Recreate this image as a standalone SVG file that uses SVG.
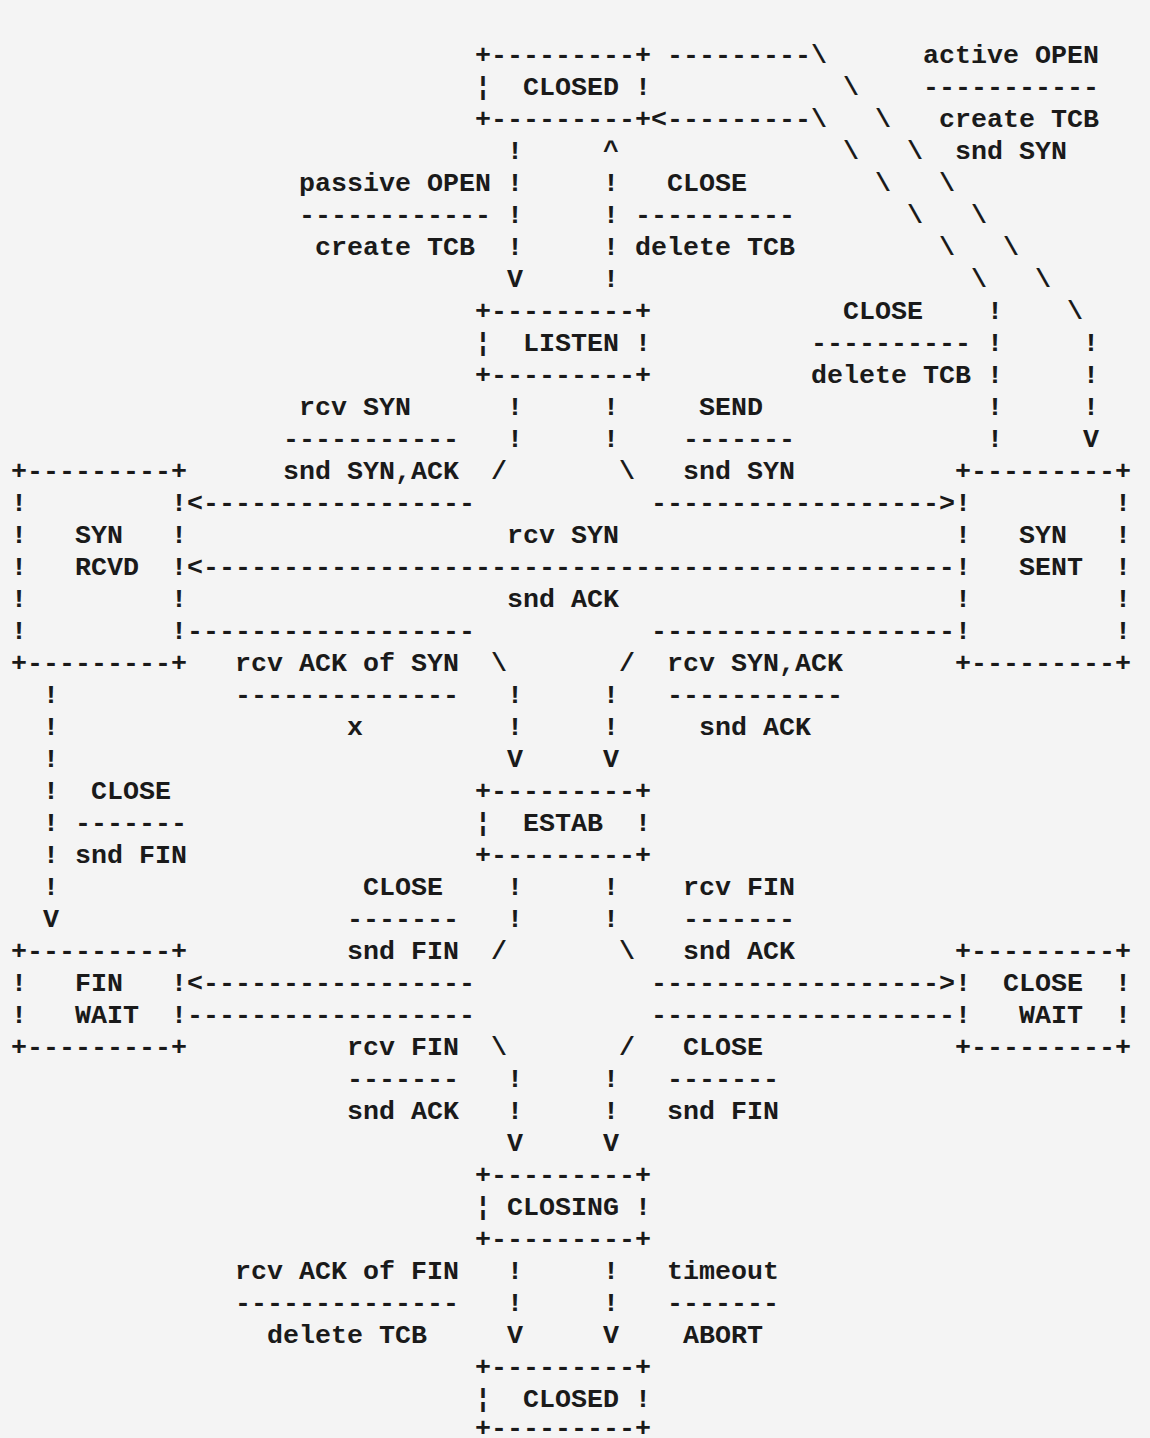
<svg xmlns="http://www.w3.org/2000/svg" width="1150" height="1438" viewBox="0 0 1150 1438">
<style>
text{font-family:"Liberation Mono","DejaVu Sans Mono",monospace;font-size:26.67px;font-weight:bold;fill:#1a1a1a;white-space:pre}
</style>
<rect x="0" y="0" width="1150" height="1438" fill="#f4f4f4"/>
<g id="node-closed-top">
<text x="475" y="63">+---------+</text>
<text x="475" y="95">¦</text><text x="523" y="95">CLOSED</text><text x="635" y="95">!</text>
<text x="475" y="127">+---------+</text>
</g>
<g id="node-listen">
<text x="475" y="319">+---------+</text>
<text x="475" y="351">¦</text><text x="523" y="351">LISTEN</text><text x="635" y="351">!</text>
<text x="475" y="383">+---------+</text>
</g>
<g id="node-syn-rcvd">
<text x="11" y="479">+---------+</text>
<text x="11" y="511">!</text><text x="171" y="511">!</text>
<text x="11" y="543">!</text><text x="75" y="543">SYN</text><text x="171" y="543">!</text>
<text x="11" y="575">!</text><text x="75" y="575">RCVD</text><text x="171" y="575">!</text>
<text x="11" y="607">!</text><text x="171" y="607">!</text>
<text x="11" y="639">!</text><text x="171" y="639">!</text>
<text x="11" y="671">+---------+</text>
</g>
<g id="node-syn-sent">
<text x="955" y="479">+---------+</text>
<text x="955" y="511">!</text><text x="1115" y="511">!</text>
<text x="955" y="543">!</text><text x="1019" y="543">SYN</text><text x="1115" y="543">!</text>
<text x="955" y="575">!</text><text x="1019" y="575">SENT</text><text x="1115" y="575">!</text>
<text x="955" y="607">!</text><text x="1115" y="607">!</text>
<text x="955" y="639">!</text><text x="1115" y="639">!</text>
<text x="955" y="671">+---------+</text>
</g>
<g id="node-estab">
<text x="475" y="799">+---------+</text>
<text x="475" y="831">¦</text><text x="523" y="831">ESTAB</text><text x="635" y="831">!</text>
<text x="475" y="863">+---------+</text>
</g>
<g id="node-fin-wait">
<text x="11" y="959">+---------+</text>
<text x="11" y="991">!</text><text x="75" y="991">FIN</text><text x="171" y="991">!</text>
<text x="11" y="1023">!</text><text x="75" y="1023">WAIT</text><text x="171" y="1023">!</text>
<text x="11" y="1055">+---------+</text>
</g>
<g id="node-close-wait">
<text x="955" y="959">+---------+</text>
<text x="955" y="991">!</text><text x="1003" y="991">CLOSE</text><text x="1115" y="991">!</text>
<text x="955" y="1023">!</text><text x="1019" y="1023">WAIT</text><text x="1115" y="1023">!</text>
<text x="955" y="1055">+---------+</text>
</g>
<g id="node-closing">
<text x="475" y="1183">+---------+</text>
<text x="475" y="1215">¦</text><text x="507" y="1215">CLOSING</text><text x="635" y="1215">!</text>
<text x="475" y="1247">+---------+</text>
</g>
<g id="node-closed-bottom">
<text x="475" y="1375">+---------+</text>
<text x="475" y="1407">¦</text><text x="523" y="1407">CLOSED</text><text x="635" y="1407">!</text>
<text x="475" y="1436">+---------+</text>
</g>
<g id="connectors">
<text x="667" y="63">---------\</text>
<text x="843" y="95">\</text>
<text x="651" y="127">&lt;---------\</text><text x="875" y="127">\</text>
<text x="507" y="159">!</text><text x="603" y="159">^</text><text x="843" y="159">\</text><text x="907" y="159">\</text>
<text x="507" y="191">!</text><text x="603" y="191">!</text><text x="875" y="191">\</text><text x="939" y="191">\</text>
<text x="507" y="223">!</text><text x="603" y="223">!</text><text x="907" y="223">\</text><text x="971" y="223">\</text>
<text x="507" y="255">!</text><text x="603" y="255">!</text><text x="939" y="255">\</text><text x="1003" y="255">\</text>
<text x="507" y="287">V</text><text x="603" y="287">!</text><text x="971" y="287">\</text><text x="1035" y="287">\</text>
<text x="987" y="319">!</text><text x="1067" y="319">\</text>
<text x="987" y="351">!</text><text x="1083" y="351">!</text>
<text x="987" y="383">!</text><text x="1083" y="383">!</text>
<text x="507" y="415">!</text><text x="603" y="415">!</text><text x="987" y="415">!</text><text x="1083" y="415">!</text>
<text x="507" y="447">!</text><text x="603" y="447">!</text><text x="987" y="447">!</text><text x="1083" y="447">V</text>
<text x="491" y="479">/</text><text x="619" y="479">\</text>
<text x="187" y="511">&lt;-----------------</text><text x="651" y="511">------------------&gt;</text>
<text x="187" y="575">&lt;-----------------------------------------------</text>
<text x="187" y="639">------------------</text><text x="651" y="639">-------------------</text>
<text x="491" y="671">\</text><text x="619" y="671">/</text>
<text x="43" y="703">!</text><text x="507" y="703">!</text><text x="603" y="703">!</text>
<text x="43" y="735">!</text><text x="507" y="735">!</text><text x="603" y="735">!</text>
<text x="43" y="767">!</text><text x="507" y="767">V</text><text x="603" y="767">V</text>
<text x="43" y="799">!</text>
<text x="43" y="831">!</text>
<text x="43" y="863">!</text>
<text x="43" y="895">!</text><text x="507" y="895">!</text><text x="603" y="895">!</text>
<text x="43" y="927">V</text><text x="507" y="927">!</text><text x="603" y="927">!</text>
<text x="491" y="959">/</text><text x="619" y="959">\</text>
<text x="187" y="991">&lt;-----------------</text><text x="651" y="991">------------------&gt;</text>
<text x="187" y="1023">------------------</text><text x="651" y="1023">-------------------</text>
<text x="491" y="1055">\</text><text x="619" y="1055">/</text>
<text x="507" y="1087">!</text><text x="603" y="1087">!</text>
<text x="507" y="1119">!</text><text x="603" y="1119">!</text>
<text x="507" y="1151">V</text><text x="603" y="1151">V</text>
<text x="507" y="1279">!</text><text x="603" y="1279">!</text>
<text x="507" y="1311">!</text><text x="603" y="1311">!</text>
<text x="507" y="1343">V</text><text x="603" y="1343">V</text>
</g>
<g id="labels">
<text x="923" y="63">active OPEN</text>
<text x="923" y="95">-----------</text>
<text x="939" y="127">create TCB</text>
<text x="955" y="159">snd SYN</text>
<text x="299" y="191">passive OPEN</text><text x="667" y="191">CLOSE</text>
<text x="299" y="223">------------</text><text x="635" y="223">----------</text>
<text x="315" y="255">create TCB</text><text x="635" y="255">delete TCB</text>
<text x="843" y="319">CLOSE</text>
<text x="811" y="351">----------</text>
<text x="811" y="383">delete TCB</text>
<text x="299" y="415">rcv SYN</text><text x="699" y="415">SEND</text>
<text x="283" y="447">-----------</text><text x="683" y="447">-------</text>
<text x="283" y="479">snd SYN,ACK</text><text x="683" y="479">snd SYN</text>
<text x="507" y="543">rcv SYN</text>
<text x="507" y="607">snd ACK</text>
<text x="235" y="671">rcv ACK of SYN</text><text x="667" y="671">rcv SYN,ACK</text>
<text x="235" y="703">--------------</text><text x="667" y="703">-----------</text>
<text x="347" y="735">x</text><text x="699" y="735">snd ACK</text>
<text x="91" y="799">CLOSE</text>
<text x="75" y="831">-------</text>
<text x="75" y="863">snd FIN</text>
<text x="363" y="895">CLOSE</text><text x="683" y="895">rcv FIN</text>
<text x="347" y="927">-------</text><text x="683" y="927">-------</text>
<text x="347" y="959">snd FIN</text><text x="683" y="959">snd ACK</text>
<text x="347" y="1055">rcv FIN</text><text x="683" y="1055">CLOSE</text>
<text x="347" y="1087">-------</text><text x="667" y="1087">-------</text>
<text x="347" y="1119">snd ACK</text><text x="667" y="1119">snd FIN</text>
<text x="235" y="1279">rcv ACK of FIN</text><text x="667" y="1279">timeout</text>
<text x="235" y="1311">--------------</text><text x="667" y="1311">-------</text>
<text x="267" y="1343">delete TCB</text><text x="683" y="1343">ABORT</text>
</g>
</svg>
